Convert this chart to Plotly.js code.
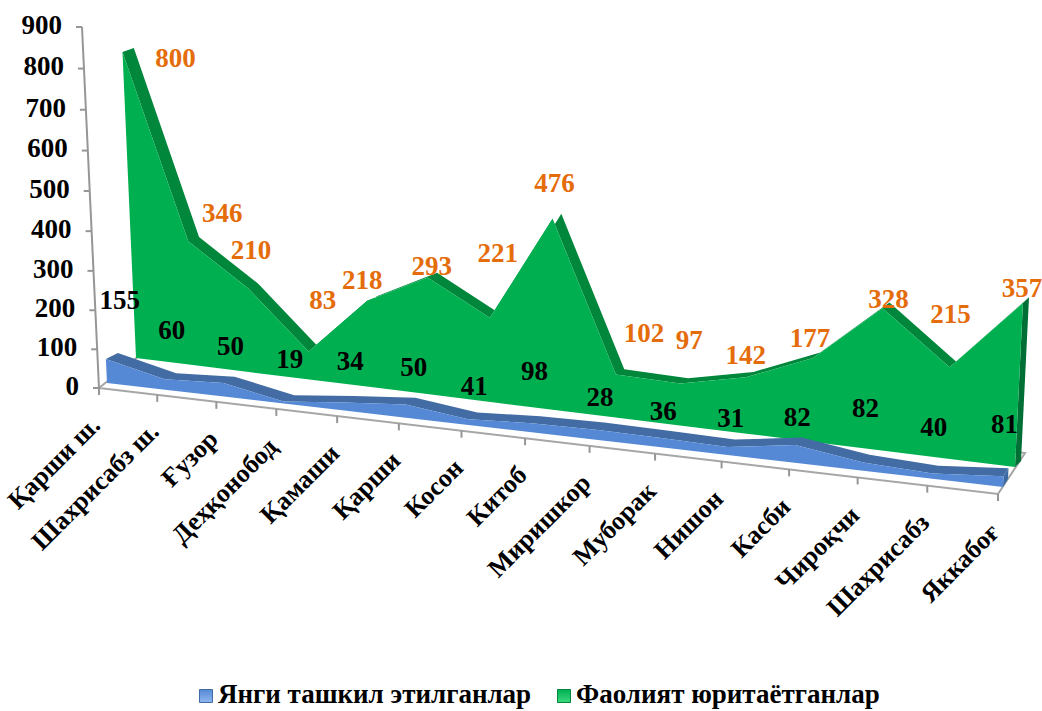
<!DOCTYPE html>
<html><head><meta charset="utf-8">
<script src="https://cdn.plot.ly/plotly-3.0.1.min.js"></script>
<style>html,body{margin:0;padding:0;background:#fff}#chart{width:1042px;height:711px}</style>
</head><body><div id="chart"></div>
<script>
// ---------- data ----------
const categories = ["Қарши ш.","Шахрисабз ш.","Ғузор","Деҳқонобод","Қамаши","Қарши","Косон","Китоб","Миришкор","Муборак","Нишон","Касби","Чироқчи","Шахрисабз","Яккабоғ"];
const newNames = "Янги ташкил этилганлар";
const activeNames = "Фаолият юритаётганлар";
// printed data labels
const activeLabels = [800,346,210,83,218,293,221,476,102,97,142,177,328,215,357];
const newLabels = [155,60,50,19,34,50,41,98,28,36,31,82,82,40,81];
// heights of the two areas as they read against the value axis
const activeDrawn = [805,322,216,71,216,290,206,462,103,99,131,193,323,205,364];
const newDrawn = [63,27,35,5,20,33,14,22,24,22,19,41,19,12,24];
const valueTicks = [0,100,200,300,400,500,600,700,800,900];

// ---------- label nudges (px from the projected point) ----------
const activeNudge = [[53,8],[34,-26],[3,-36],[14,-49],[-5,-19],[4,-9],[8,-63],[2,-34],[28,-39],[9,-41],[0,-20],[-3,-18],[6,-7],[1,-51],[-1,-13]];
const newNudge = [[14,-57],[7,-47],[7,-35],[6,-40],[6,-39],[8,-35],[6,-31],[3,-50],[4,-30],[2,-25],[3,-27],[2,-26],[2,-52],[1,-44],[1,-50]];

// ---------- oblique projection of the 3-D scene to the page ----------
const persp = u => u / (1 + 0.11 * (1 - u));
const planes = {
  floorFront: {l:[99,388],  r:[998,494]},
  blueFront:  {l:[107,383], r:[1003,487]},
  blueBack:   {l:[119,377], r:[1008,479]},
  greenFront: {l:[136,358], r:[1015,467]},
  greenBack:  {l:[147,354], r:[1021,461]}
};
const n = categories.length;
function project(plane, i, v) {
  const p = planes[plane], f = persp(i / (n - 1));
  const bx = p.l[0] + (p.r[0] - p.l[0]) * f;
  const by = p.l[1] + (p.r[1] - p.l[1]) * f;
  const h = v * (0.38 + 0.07 * f);
  return [bx + (bx - 556) / 9500 * h, by - h];
}
const line = (plane, vals) => vals.map((v, i) => project(plane, i, v));
const xs = pts => pts.map(p => p[0]);
const ys = pts => pts.map(p => p[1]);
const closed = pts => pts.concat([pts[0]]);
function poly(pts, color, lineColor, lw) {
  return {type:'scatter', mode: lw ? 'lines' : 'none', x: xs(closed(pts)), y: ys(closed(pts)), fill:'toself',
    fillcolor: color, line:{color: lineColor || color, width: lw || 0}, hoverinfo:'skip', showlegend:false};
}
function areaFace(plane, vals) {
  const zero = vals.map(() => 0);
  return line(plane, vals).concat(line(plane, zero).reverse());
}
function band(frontPlane, backPlane, vals) {
  return line(frontPlane, vals).concat(line(backPlane, vals).reverse());
}
function endSide(frontPlane, backPlane, vals) {
  const e = n - 1, v = vals[e];
  return [project(frontPlane,e,v), project(backPlane,e,v), project(backPlane,e,0), project(frontPlane,e,0)];
}

const FONT = "Liberation Serif";
const GREEN='#00B050', GREEN_D='#00873C', GREEN_S='#006F35', BLUE='#5589D6', BLUE_D='#426CA3', BLUE_S='#3A6BA5', GREY='#969696', ORANGE='#E46C0A';

const traces = [];
// floor
const floorBack = [[1025,453],[140,355]];
traces.push(poly([planes.floorFront.l, planes.floorFront.r, floorBack[0], floorBack[1]], '#FFFFFF', '#A6A6A6', 2));
// category ticks
const tx=[], ty=[];
categories.forEach((c,i)=>{const p=project('floorFront',i,0); tx.push(p[0],p[0],null); ty.push(p[1],p[1]+7,null);});
traces.push({type:'scatter',mode:'lines',x:tx,y:ty,line:{color:GREY,width:2},hoverinfo:'skip',showlegend:false});
// value axis
const axisY = v => { const u=v/900, g=u/(1+0.041*(1-u)); return [99-17*g, 388-361*g]; };
const axPts = valueTicks.map(axisY);
traces.push({type:'scatter',mode:'lines',x:xs(axPts),y:ys(axPts),line:{color:GREY,width:2},hoverinfo:'skip',showlegend:false});
const vx=[], vy=[];
axPts.forEach(p=>{vx.push(p[0]-6,p[0],null); vy.push(p[1],p[1],null);});
traces.push({type:'scatter',mode:'lines',x:vx,y:vy,line:{color:GREY,width:2},hoverinfo:'skip',showlegend:false});
traces.push({type:'scatter',mode:'text',x:axPts.map(p=>p[0]-20),y:ys(axPts),text:valueTicks.map(String),textposition:'middle left',
  textfont:{family:FONT,size:27,color:'#000',weight:'bold'},hoverinfo:'skip',showlegend:false});
// green area
traces.push(poly(endSide('greenFront','greenBack',activeDrawn),GREEN_S));
traces.push(poly(band('greenFront','greenBack',activeDrawn),GREEN_D));
traces.push(poly(areaFace('greenFront',activeDrawn),GREEN));
// blue area
traces.push(poly(endSide('blueFront','blueBack',newDrawn),BLUE_S));
traces.push(poly(band('blueFront','blueBack',newDrawn),BLUE_D));
traces.push(poly(areaFace('blueFront',newDrawn),BLUE));
// data labels
const gTop = line('greenFront',activeDrawn), bTop = line('blueFront',newDrawn);
traces.push({type:'scatter',mode:'text',x:gTop.map((p,i)=>p[0]+activeNudge[i][0]),y:gTop.map((p,i)=>p[1]+activeNudge[i][1]),
  text:activeLabels.map(String),textposition:'middle center',textfont:{family:FONT,size:27,color:ORANGE,weight:'bold'},hoverinfo:'skip',showlegend:false});
traces.push({type:'scatter',mode:'text',x:bTop.map((p,i)=>p[0]+newNudge[i][0]),y:bTop.map((p,i)=>p[1]+newNudge[i][1]),
  text:newLabels.map(String),textposition:'middle center',textfont:{family:FONT,size:27,color:'#000',weight:'bold'},hoverinfo:'skip',showlegend:false});
// legend entries
function legendEntry(name,mx,color,edge,top){
  traces.push({type:'scatter',mode:'markers',x:[mx],y:[696],name,showlegend:false,hoverinfo:'skip',
    marker:{symbol:'square',size:13,color:top,line:{color:edge,width:1},gradient:{type:'vertical',color:color}}});
  traces.push({type:'scatter',mode:'text',x:[mx+12],y:[696],text:[name],textposition:'middle right',showlegend:false,hoverinfo:'skip',
    textfont:{family:FONT,size:27,color:'#000',weight:'bold'}});
}
legendEntry(newNames,206,'#8FB8EE',BLUE_D,BLUE);
legendEntry(activeNames,564,'#3CD97F',GREEN_D,GREEN);

// category labels
const annotations = categories.map((c,i)=>{
  const p = project('floorFront',i,0);
  return {x:p[0]+10,y:p[1]+20,xref:'x',yref:'y',text:c,showarrow:false,textangle:-45,xanchor:'right',yanchor:'top',
    font:{family:FONT,size:26,color:'#000',weight:'bold'}};
});

const layout = {
  width:1042,height:711,paper_bgcolor:'#fff',plot_bgcolor:'#fff',
  margin:{l:0,r:0,t:0,b:0},
  xaxis:{range:[0,1042],visible:false,fixedrange:true},
  yaxis:{range:[711,0],visible:false,fixedrange:true},
  showlegend:false,
  annotations
};
Plotly.newPlot('chart',traces,layout,{displayModeBar:false,staticPlot:true});
</script></body></html>
